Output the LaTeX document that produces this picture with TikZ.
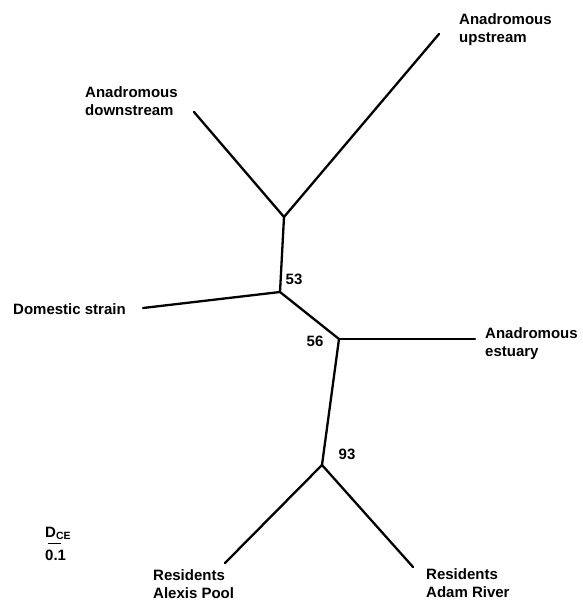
\documentclass[tikz,border=0pt]{standalone}
\usepackage{fontspec}
\setmainfont{Liberation Sans}
\usepackage{tikz}
\usetikzlibrary{positioning}

\begin{document}
\begin{tikzpicture}[x=1pt, y=-1pt, font=\bfseries\fontsize{15}{18}\selectfont,
  br/.style={line width=2.3pt, line cap=round},
  lbl/.style={align=left, inner sep=0pt, anchor=west},
  bs/.style={inner sep=0pt}]
  \useasboundingbox (0,0) rectangle (583,602);
  % internal nodes of the tree
  \coordinate (n1) at (284,217); \coordinate (n2) at (280,292);
  \coordinate (n3) at (339,339); \coordinate (n4) at (322,465);
  % tips
  \coordinate (up) at (439,34); \coordinate (down) at (194,112);
  \coordinate (dom) at (143,308); \coordinate (est) at (475,339);
  \coordinate (alexis) at (225,563); \coordinate (adam) at (413,567);
  \foreach \u/\v in {n1/up,n1/down,n1/n2,n2/dom,n2/n3,n3/est,n3/n4,n4/alexis,n4/adam} \draw[br] (\u) -- (\v);
  % tip labels
  \node[lbl] (lup) at (459,30) {Anadromous\\upstream};
  \node[lbl] (ldown) at (85,101) {Anadromous\\downstream};
  \node[lbl] (ldom) at (13,309) {Domestic strain};
  \node[lbl] (lest) at (485,344) {Anadromous\\estuary};
  \node[lbl] (lalexis) at (153,584) {Residents\\Alexis Pool};
  \node[lbl] (ladam) at (426,583) {Residents\\Adam River};
  % bootstrap values
  \node[bs] (b53) at (294,279) {53};
  \node[bs] (b56) at (315,341) {56};
  \node[bs] (b93) at (347,454) {93};
  % scale bar
  \node[bs, anchor=base west] (dce) at (45,537) {D\textsubscript{CE}};
  \coordinate (s1) at (48,543); \coordinate (s2) at (61,543);
  \draw[line width=1pt] (s1) -- (s2);
  \node[bs, anchor=base west] (sv) at (45,560) {0.1};
\end{tikzpicture}
\end{document}
